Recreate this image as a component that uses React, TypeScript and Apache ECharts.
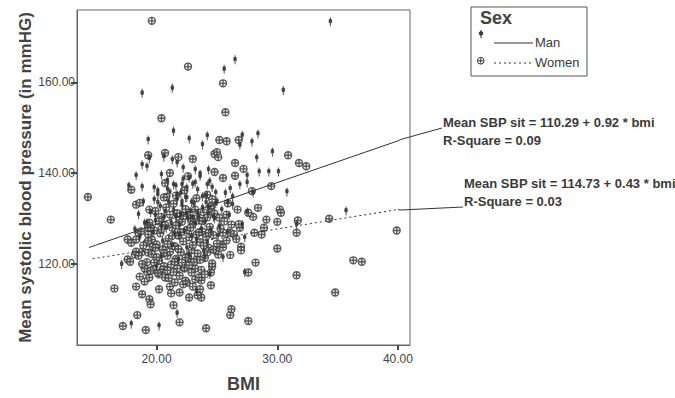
import React, { useEffect, useRef } from "react";
import * as echarts from "echarts";

// BMI vs mean sitting systolic blood pressure, by sex.
const manPoints: number[][] = [
  [34.4, 173.4], [25.6, 162.9], [26.5, 165.0], [18.8, 157.6], [21.3, 158.7], [30.5, 158.2],
  [19.3, 147.3], [21.4, 149.2], [22.7, 147.5], [23.8, 146.2], [24.2, 148.2], [26.9, 146.1],
  [27.1, 148.3], [27.9, 146.8], [28.4, 148.6], [19.4, 143.2], [18.8, 141.8], [19.2, 141.4],
  [18.3, 139.4], [20.6, 143.5], [21.3, 142.9], [21.7, 142.2], [22.2, 141.1], [23.2, 140.7],
  [23.6, 139.8], [24.3, 140.7], [27.5, 139.4], [28.3, 143.3], [28.5, 140.2], [29.3, 140.2],
  [29.6, 144.6], [30.1, 140.2], [20.4, 139.6],
  [17.1, 119.8], [17.9, 106.6], [20.2, 106.2], [21.7, 109.0], [27.3, 118.0], [31.6, 128.6],
  [35.7, 131.6], [30.8, 135.8], [27.5, 131.4], [27.1, 128.6], [27.3, 125.7], [28.0, 135.6],
  [27.5, 137.8], [26.9, 137.4], [26.1, 136.5], [26.3, 134.7], [25.9, 133.4], [25.5, 121.3],
  [24.4, 117.6], [23.3, 113.8], [20.0, 119.3], [24.0, 121.5], [18.2, 127.5], [17.7, 137.1],
  [18.5, 130.8], [18.8, 136.9], [19.2, 129.0], [19.8, 136.7], [19.8, 134.1], [20.1, 133.4],
  [21.4, 137.4], [22.1, 137.4], [22.5, 136.7], [23.2, 137.8], [24.2, 137.4], [24.9, 135.6],
  [24.1, 133.4], [22.5, 134.5], [22.1, 133.6], [21.7, 134.1], [20.1, 135.2],
  [19.5, 131.2], [19.9, 129.4], [20.3, 132.6], [20.6, 130.1], [20.8, 127.8], [21.0, 133.5],
  [21.2, 129.0], [21.4, 131.7], [21.5, 126.5], [21.7, 135.2], [21.9, 128.4], [22.0, 130.9],
  [22.1, 132.8], [22.3, 127.1], [22.4, 134.6], [22.6, 129.8], [22.8, 131.5], [22.9, 126.0],
  [23.1, 133.1], [23.2, 128.7], [23.4, 136.2], [23.5, 130.4], [23.7, 127.6], [23.8, 132.3],
  [24.0, 129.1], [24.1, 134.9], [24.3, 131.0], [24.5, 127.3], [24.6, 136.8], [24.8, 129.9],
  [25.0, 133.7], [25.2, 128.2], [25.4, 131.8], [25.7, 135.5], [26.0, 130.6], [26.3, 132.9],
  [20.1, 136.0], [20.9, 138.3], [21.6, 137.1], [22.2, 138.6], [23.0, 137.5], [23.6, 139.2],
  [24.4, 138.1], [19.7, 126.8], [20.5, 124.9], [21.3, 124.0], [22.5, 123.4], [23.3, 125.2],
  [24.2, 124.6], [25.1, 126.1], [25.9, 127.0], [19.0, 128.9], [18.9, 133.6], [18.6, 125.8],
  [22.7, 121.9], [23.9, 122.7], [21.8, 120.8], [20.4, 121.5],
  [19.9, 130.6], [20.7, 131.4], [21.1, 135.7], [21.6, 130.3], [22.0, 135.5], [22.5, 131.0],
  [22.9, 133.5], [23.4, 131.0], [23.8, 134.7], [24.3, 132.4], [24.7, 130.3], [20.4, 128.2],
  [21.9, 126.3], [23.0, 130.1], [20.9, 136.4], [22.7, 138.9], [24.9, 133.2],
];

const womenPoints: number[][] = [
  [19.6, 173.6], [22.6, 163.5], [25.5, 159.8], [20.4, 152.1], [25.7, 153.4], [25.2, 147.3],
  [25.8, 147.0], [26.8, 147.3], [19.3, 143.9], [20.7, 144.4], [21.8, 143.5], [23.0, 143.1],
  [24.8, 140.2], [24.8, 144.2], [25.1, 143.5], [25.0, 144.6], [26.5, 142.2], [27.2, 140.9],
  [30.9, 143.9], [31.8, 142.2], [32.4, 141.5], [21.1, 140.0], [25.5, 138.9], [26.5, 139.4],
  [14.3, 134.7], [16.2, 129.7], [16.5, 114.5], [17.2, 106.2], [18.3, 114.9], [18.4, 108.6],
  [18.8, 113.2], [19.1, 105.3], [20.2, 114.3], [19.4, 112.1], [19.5, 111.0], [21.4, 110.8],
  [21.9, 107.0], [24.1, 105.7], [26.1, 108.6], [26.2, 109.9], [27.6, 107.3], [28.2, 120.2],
  [27.6, 118.0], [30.0, 123.3], [31.6, 117.4], [31.6, 126.8], [31.7, 129.5], [34.3, 129.9],
  [34.8, 113.6], [36.3, 120.7], [37.0, 120.4], [39.9, 127.3], [29.5, 137.1], [30.2, 131.9],
  [30.3, 131.2], [29.1, 129.7], [30.0, 129.2], [28.7, 126.4], [28.9, 127.9], [28.4, 132.3],
  [28.0, 130.3], [27.6, 131.2], [28.1, 126.8], [27.0, 123.7], [27.9, 136.0], [25.8, 130.8],
  [26.9, 127.9], [26.2, 128.6], [26.1, 126.8], [25.5, 126.8], [25.4, 124.2], [25.1, 122.0],
  [24.6, 119.3], [24.5, 118.0], [24.5, 115.2], [23.7, 116.3], [23.7, 112.5], [23.2, 116.5],
  [23.0, 114.9], [22.7, 112.5], [22.5, 115.8], [22.2, 115.4], [21.9, 113.6], [21.1, 114.9],
  [21.5, 115.8], [21.2, 113.4], [23.6, 114.3], [23.4, 113.0], [20.7, 116.9], [20.5, 118.7],
  [20.2, 117.6], [19.7, 118.7], [19.4, 116.9], [19.2, 118.2], [19.0, 116.0], [19.0, 118.9],
  [18.6, 117.1], [21.7, 118.9], [22.3, 118.9], [23.2, 118.9], [22.6, 121.1], [23.3, 120.9],
  [24.2, 122.4], [17.6, 120.9], [17.8, 120.4], [18.2, 122.0], [17.6, 125.3], [17.9, 124.6],
  [18.3, 125.3], [18.3, 122.6], [18.5, 126.8], [17.9, 136.3], [18.3, 133.0], [18.6, 133.4],
  [19.3, 127.9], [19.3, 126.4], [19.6, 125.3], [19.2, 124.6], [18.8, 122.6], [19.3, 122.4],
  [19.7, 123.7], [19.4, 131.9], [20.7, 137.8], [22.6, 139.3], [24.2, 135.2], [24.5, 132.1],
  [20.8, 134.7],
  [19.3, 125.0], [19.6, 122.1], [19.8, 127.3], [20.0, 124.2], [20.2, 120.6], [20.3, 126.7],
  [20.5, 123.1], [20.7, 128.5], [20.9, 121.7], [21.0, 125.5], [21.2, 119.8], [21.3, 127.9],
  [21.5, 123.8], [21.6, 121.0], [21.8, 126.2], [21.9, 129.6], [22.0, 122.5], [22.2, 124.9],
  [22.3, 119.1], [22.5, 127.4], [22.6, 121.6], [22.7, 125.8], [22.9, 123.0], [23.0, 128.8],
  [23.1, 120.3], [23.3, 126.4], [23.4, 122.2], [23.6, 124.7], [23.7, 118.6], [23.8, 127.0],
  [24.0, 121.2], [24.1, 125.9], [24.3, 123.5], [24.4, 128.1], [24.6, 120.0], [24.7, 126.3],
  [24.9, 122.8], [25.0, 124.4], [25.3, 127.7], [25.5, 123.6], [25.8, 125.1], [26.1, 121.9],
  [26.4, 126.5], [19.4, 129.0], [19.9, 131.6], [20.4, 130.3], [20.8, 132.4], [21.1, 130.8],
  [21.4, 133.2], [21.7, 131.1], [22.1, 129.2], [22.4, 132.0], [22.8, 130.0], [23.2, 131.9],
  [23.5, 129.5], [23.9, 131.3], [24.2, 130.2], [24.5, 132.7], [24.8, 131.0], [25.2, 130.1],
  [25.6, 129.3], [19.2, 120.3], [19.5, 118.4], [20.1, 117.9], [20.6, 119.4], [21.0, 116.8],
  [21.4, 118.1], [21.9, 117.3], [22.4, 116.2], [22.9, 118.0], [23.5, 116.9], [24.0, 117.6],
  [18.8, 119.9], [18.5, 121.7], [18.9, 124.0], [18.7, 127.1], [21.6, 135.0], [22.3, 136.2],
  [23.3, 134.4], [20.6, 134.6], [24.6, 134.2], [25.9, 133.3], [26.7, 131.9], [26.6, 125.4],
  [27.0, 122.9], [26.8, 128.7],
  [20.0, 121.4], [20.4, 127.6], [20.9, 124.3], [21.1, 122.6], [21.6, 128.4], [21.8, 123.2],
  [22.0, 126.9], [22.4, 121.3], [22.8, 127.9], [23.0, 124.1], [23.5, 126.9], [23.9, 123.9],
  [24.3, 126.8], [24.7, 123.1], [20.2, 129.3], [21.3, 126.1], [22.2, 130.5], [23.1, 129.9],
  [23.8, 129.4], [20.6, 122.3], [21.5, 120.4], [22.7, 119.6], [23.6, 120.8], [19.8, 120.2],
  [20.9, 118.5], [22.1, 120.2], [19.5, 127.9], [19.9, 123.5],
];

// Fitted linear models (intercept, slope, R²) for each sex.
const manFit = { intercept: 110.29, slope: 0.92, r2: 0.09 };
const womenFit = { intercept: 114.73, slope: 0.43, r2: 0.03 };
const manBmiRange = [14.4, 40.0];
const womenBmiRange = [14.7, 40.0];

const xTicks = [20, 30, 40];
const yTicks = [120, 140, 160];

const manMarkPath = "M4,0 L4,11 M1.6,4.5 A2.4,2.4 0 1 1 6.4,4.5 A2.4,2.4 0 1 1 1.6,4.5 Z";
const womenMarkPath = "M0.5,5 A4.5,4.5 0 1 1 9.5,5 A4.5,4.5 0 1 1 0.5,5 Z M5,1 L5,9 M1,5 L9,5";

echarts.graphic.registerShape("manMark", echarts.graphic.extendPath(manMarkPath, {}));
echarts.graphic.registerShape("womenMark", echarts.graphic.extendPath(womenMarkPath, {}));

const FONT = "'Liberation Sans', Arial, sans-serif";
const INK = "#3a3a3a";

function fitLine(fit: { intercept: number; slope: number }, range: number[]) {
  return range.map((x) => [x, fit.intercept + fit.slope * x]);
}

export default function App() {
  const ref = useRef<HTMLDivElement>(null);

  useEffect(() => {
    if (!ref.current) return;
    const chart = echarts.init(ref.current, null, { renderer: "svg" });

    const manLine = fitLine(manFit, manBmiRange);
    const womenLine = fitLine(womenFit, womenBmiRange);

    chart.setOption({
      animation: false,
      backgroundColor: "#ffffff",
      textStyle: { fontFamily: FONT },
      grid: { left: 77, right: 265, top: 10, bottom: 52, show: true, borderColor: "#666", borderWidth: 1 },
      xAxis: {
        type: "value",
        min: 13.4,
        max: 41,
        name: "BMI",
        nameLocation: "middle",
        nameGap: 30,
        nameTextStyle: { fontFamily: FONT, fontSize: 18, fontWeight: "bold", color: "#444" },
        splitLine: { show: false },
        axisLine: { show: true, onZero: false, lineStyle: { color: "#666", width: 1 } },
        axisTick: { show: true, customValues: xTicks, length: 5, inside: false, lineStyle: { color: "#444", width: 2 } },
        axisLabel: {
          customValues: xTicks,
          formatter: (v: number) => v.toFixed(2),
          color: "#444",
          fontSize: 12,
          fontFamily: FONT,
          margin: 8,
        },
      },
      yAxis: {
        type: "value",
        min: 102,
        max: 176,
        name: "Mean systolic blood pressure (in mmHG)",
        nameLocation: "middle",
        nameGap: 39,
        nameRotate: 90,
        nameTextStyle: { fontFamily: FONT, fontSize: 17, fontWeight: "bold", color: "#444" },
        splitLine: { show: false },
        axisLine: { show: true, onZero: false, lineStyle: { color: "#666", width: 1 } },
        axisTick: { show: true, customValues: yTicks, length: 6, lineStyle: { color: "#444", width: 2 } },
        axisLabel: {
          customValues: yTicks,
          formatter: (v: number) => v.toFixed(2),
          color: "#444",
          fontSize: 12,
          fontFamily: FONT,
          margin: 2,
        },
      },
      series: [
        {
          name: "Man fit",
          type: "line",
          data: manLine,
          symbol: "none",
          lineStyle: { color: "#333", width: 1, type: "solid" },
          z: 3,
        },
        {
          name: "Women fit",
          type: "line",
          data: womenLine,
          symbol: "none",
          lineStyle: { color: "#333", width: 1, type: [2, 3] },
          z: 3,
        },
        {
          name: "Women",
          type: "scatter",
          data: womenPoints,
          symbol: "path://" + womenMarkPath,
          symbolSize: 7,
          symbolKeepAspect: true,
          itemStyle: { color: "rgba(235,235,235,0.7)", borderColor: "#333", borderWidth: 1.4 },
          z: 2,
        },
        {
          name: "Man",
          type: "scatter",
          data: manPoints,
          symbol: "path://" + manMarkPath,
          symbolSize: [6, 9],
          symbolKeepAspect: true,
          itemStyle: { color: "#444", borderColor: "#333", borderWidth: 1.3 },
          z: 2,
        },
      ],
    });

    // Equation labels with leader lines from the right end of each fit.
    const manEnd = chart.convertToPixel({ gridIndex: 0 }, manLine[1]) as number[];
    const womenEnd = chart.convertToPixel({ gridIndex: 0 }, womenLine[1]) as number[];
    const eqStyle = { fontFamily: FONT, fontSize: 13, fontWeight: "bold", fill: INK };

    chart.setOption({
      graphic: [
        {
          type: "polyline",
          shape: { points: [manEnd, [manEnd[0] + 3, manEnd[1] - 1.5], [442, 128]] },
          style: { stroke: "#333", lineWidth: 1, fill: "none" },
        },
        {
          type: "text",
          left: 443,
          top: 113,
          style: {
            ...eqStyle,
            text: `Mean SBP sit = ${manFit.intercept.toFixed(2)} + ${manFit.slope.toFixed(2)} * bmi\nR-Square = ${manFit.r2.toFixed(2)}`,
            lineHeight: 18,
          },
        },
        {
          type: "polyline",
          shape: { points: [womenEnd, [womenEnd[0] + 3, womenEnd[1] + 0.5], [463, 207]] },
          style: { stroke: "#333", lineWidth: 1, fill: "none" },
        },
        {
          type: "text",
          left: 464,
          top: 174,
          style: {
            ...eqStyle,
            text: `Mean SBP sit = ${womenFit.intercept.toFixed(2)} + ${womenFit.slope.toFixed(2)} * bmi\nR-Square = ${womenFit.r2.toFixed(2)}`,
            lineHeight: 18,
          },
        },
        // Legend box
        {
          type: "rect",
          shape: { x: 471, y: 7, width: 116, height: 69 },
          style: { fill: "#fff", stroke: "#555", lineWidth: 1 },
        },
        {
          type: "text",
          x: 480,
          y: 9,
          style: { text: "Sex", fontFamily: FONT, fontSize: 18, fontWeight: "bold", fill: "#444" },
        },
        {
          type: "manMark",
          x: 478,
          y: 30,
          scaleX: 0.75,
          scaleY: 0.75,
          style: { stroke: "#333", fill: "#444", lineWidth: 1.3 },
        },
        {
          type: "line",
          shape: { x1: 494, y1: 43, x2: 533, y2: 43 },
          style: { stroke: "#333", lineWidth: 1 },
        },
        {
          type: "text",
          x: 535,
          y: 36,
          style: { text: "Man", fontFamily: FONT, fontSize: 13, fill: INK },
        },
        {
          type: "womenMark",
          x: 477,
          y: 57,
          scaleX: 0.75,
          scaleY: 0.75,
          style: { stroke: "#333", fill: "none", lineWidth: 1.3 },
        },
        {
          type: "line",
          shape: { x1: 494, y1: 63, x2: 533, y2: 63 },
          style: { stroke: "#333", lineWidth: 1, lineDash: [2, 3] },
        },
        {
          type: "text",
          x: 535,
          y: 56,
          style: { text: "Women", fontFamily: FONT, fontSize: 13, fill: INK },
        },
      ],
    });

    return () => chart.dispose();
  }, []);

  return (
    <div
      ref={ref}
      style={{ position: "fixed", left: 0, top: 0, width: 675, height: 398, background: "#fff" }}
    />
  );
}
